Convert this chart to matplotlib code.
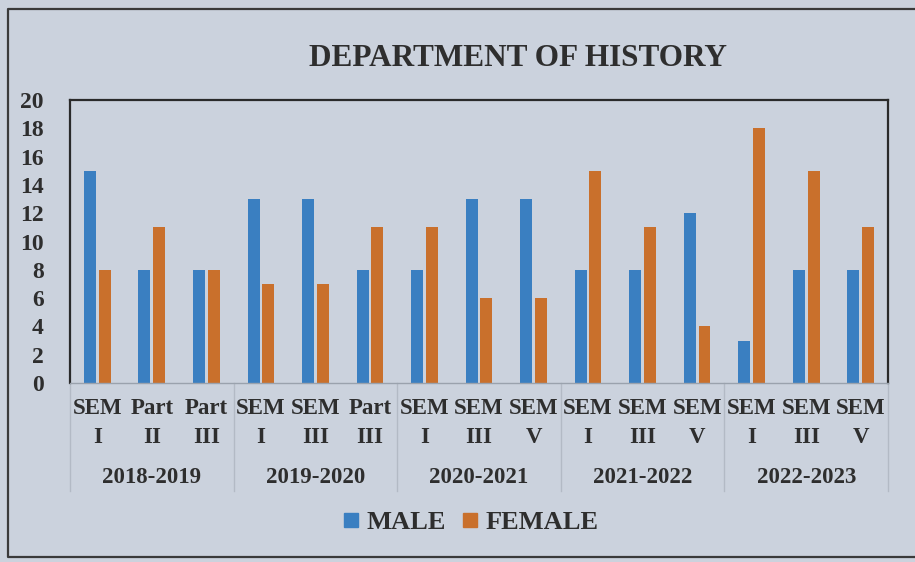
import numpy as np
import matplotlib.pyplot as plt
from matplotlib.lines import Line2D

# data
years = ['2018-2019', '2019-2020', '2020-2021', '2021-2022', '2022-2023']
terms = ['SEM\nI', 'Part\nII', 'Part\nIII',
         'SEM\nI', 'SEM\nIII', 'Part\nIII',
         'SEM\nI', 'SEM\nIII', 'SEM\nV',
         'SEM\nI', 'SEM\nIII', 'SEM\nV',
         'SEM\nI', 'SEM\nIII', 'SEM\nV']
male = [15, 8, 8, 13, 13, 8, 8, 13, 13, 8, 8, 12, 3, 8, 8]
female = [8, 11, 8, 7, 7, 11, 11, 6, 6, 15, 11, 4, 18, 15, 11]

blue = '#3a7fc1'
orange = '#c9702c'
bg = '#cbd2dd'
txt = '#2e2e2e'

plt.rcParams['font.family'] = ['Liberation Serif', 'DejaVu Serif']
plt.rcParams['font.weight'] = 'bold'

fig = plt.figure(figsize=(9.15, 5.62), dpi=100, facecolor=bg)
ax = fig.add_axes([0.0765, 0.3185, 0.894, 0.5035], facecolor=bg)

x = np.arange(len(terms))
w = 0.22
ax.bar(x - 0.135, male, w, color=blue)
ax.bar(x + 0.135, female, w, color=orange)

ax.set_xlim(-0.5, len(terms) - 0.5)
ax.set_ylim(0, 20)
ax.set_yticks(range(0, 21, 2))
ax.tick_params(axis='y', length=0, pad=19, labelsize=17, colors=txt)
ax.set_xticks(x)
ax.set_xticklabels(terms, fontsize=16.5, color=txt, linespacing=1.5)
ax.tick_params(axis='x', length=0, pad=11)

for s in ['left', 'top', 'right']:
    ax.spines[s].set_color('#2a2a2a')
    ax.spines[s].set_linewidth(1.6)
ax.spines['bottom'].set_color('#9aa2ad')
ax.spines['bottom'].set_linewidth(1)

# year group labels and separators
trans = ax.get_xaxis_transform()
for i, yr in enumerate(years):
    ax.text(3 * i + 1, -0.335, yr, transform=trans, ha='center', va='center',
            fontsize=16.5, color=txt)
for b in np.arange(-0.5, len(terms), 3):
    ax.add_line(Line2D([b, b], [0, -0.38], transform=trans, color='#b3bac5',
                       lw=1, clip_on=False))

fig.text(518 / 915, 1 - 58 / 562, 'DEPARTMENT OF HISTORY', ha='center',
         va='center', fontsize=22.5, color=txt)

handles = [Line2D([], [], marker='s', ls='', color=blue, markersize=9.5),
           Line2D([], [], marker='s', ls='', color=orange, markersize=9.5)]
fig.legend(handles, ['MALE', 'FEMALE'], loc='center',
           bbox_to_anchor=(0.51, 1 - 522 / 562), ncol=2, frameon=False,
           fontsize=19, handletextpad=0.0, handlelength=1.2,
           columnspacing=0.3, labelcolor=txt)

# outer chart frame (right edge runs off the photo)
fx = [2.0, 8 / 915, 8 / 915, 2.0]
fy = [1 - 9 / 562, 1 - 9 / 562, 1 - 557 / 562, 1 - 557 / 562]
fig.add_artist(Line2D(fx, fy, transform=fig.transFigure,
                      color='#3a3a3a', lw=1.6))

fig.savefig('out.png', dpi=100, facecolor=bg)
